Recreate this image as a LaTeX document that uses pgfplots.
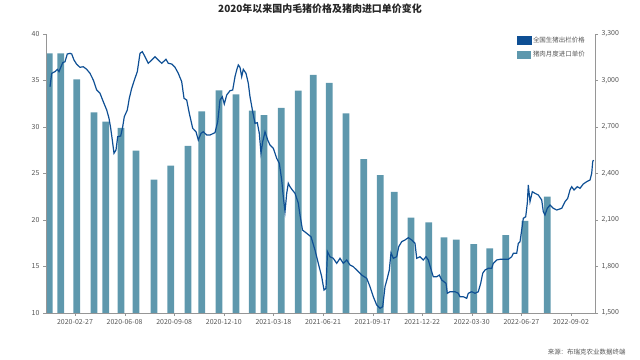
\documentclass[border=0pt]{standalone}
\usepackage{pgfplots}
\pgfplotsset{compat=1.18}
\usepackage{fontspec}
\setmainfont{Noto Sans CJK SC}
\definecolor{lineblue}{RGB}{14,79,148}
\definecolor{barblue}{RGB}{94,152,173}
\definecolor{axgray}{RGB}{150,150,150}
\definecolor{txtgray}{RGB}{85,85,85}
\begin{document}
\begin{tikzpicture}
\path[use as bounding box] (0bp,0bp) rectangle (640bp,360bp);
\pgfplotsset{common/.style={width=549bp,height=279bp,scale only axis,
  at={(46bp,47bp)},anchor=south west,xmin=46,xmax=595,
  tick label style={font=\fontsize{7}{8}\selectfont,text=txtgray},
  /pgf/number format/assume math mode=true,
  axis line style={axgray},tick style={axgray},major tick length=3bp,
  tick align=outside}}
\begin{axis}[common,hide x axis,axis y line*=right,
  ymin=1500,ymax=3300,ytick={1500,1800,...,3300},
  yticklabel style={/pgf/number format/1000 sep={,}},
  legend style={at={(1,1)},anchor=north east,draw=none,fill=none,
    font=\fontsize{6.5}{8}\selectfont,text=txtgray,row sep=3bp,inner sep=0pt,
    xshift=-8bp,yshift=-1bp},
  legend cell align=left]
\addlegendimage{legend image code/.code={\fill[lineblue] (0bp,-4bp) rectangle (14bp,4bp);}}
\addlegendentry{全国生猪出栏价格}
\addplot[ybar,bar width=6.7bp,fill=barblue,draw=none,
  legend image code/.code={\fill[barblue] (0bp,-4bp) rectangle (14bp,4bp);}]
  coordinates {
(49.3,3175) (60.7,3175) (76.7,3008) (94,2795) (105.7,2734) (121,2694)
(136,2547) (154,2360) (170.7,2450) (188,2579) (201.7,2801) (219,2937)
(236,2911) (252.3,2805) (264,2777) (281.3,2824) (298.3,2934) (313.3,3037)
(329.3,2984) (346,2788) (363.7,2493) (380.3,2390) (394.3,2281) (411,2115)
(428.7,2085) (444,1988) (456.3,1973) (473.7,1945) (489.7,1917) (505.7,2003)
(525,2095) (547.3,2250)};
\addlegendentry{猪肉月度进口单价}
\node[font=\fontsize{7}{8}\selectfont,text=txtgray] at (axis description cs:1,1) [yshift=9bp] {美元/吨};
\end{axis}
\begin{axis}[common,axis y line*=left,axis x line*=bottom,
  ymin=10,ymax=40,ytick={10,15,...,40},
  xtick={75,124.6,174.2,223.8,273.4,323,372.6,422.2,471.8,521.4,571},
  xticklabels={2020-02-27,2020-06-08,2020-09-08,2020-12-10,2021-03-18,2021-06-21,2021-09-17,2021-12-22,2022-03-30,2022-06-27,2022-09-02}]
\addplot[lineblue,line width=1.2bp,mark=none] coordinates {
(50,34.33) (51.7,35.77) (55,35.95) (57.3,36.20) (59,35.95) (61,36.48)
(62.7,36.91) (65,37.02) (67.3,37.85) (70,37.92) (71.7,37.85) (74,37.20)
(76.7,36.74) (80,36.42) (83.3,36.48) (86.7,36.20) (90,35.77) (93.3,35.05)
(96.7,33.98) (100,33.62) (103.3,32.72) (106.7,31.83) (109,30.94) (110.7,29.86)
(112.3,28.60) (114,27.17) (116,27.53) (117.7,28.96) (120.7,29.03) (122.7,30.03)
(124.3,31.11) (127.3,31.83) (129.3,33.09) (131.7,34.16) (135,35.24) (137.3,35.95)
(140,37.92) (142.3,38.10) (145,37.56) (148.3,36.85) (151.7,37.20) (155,37.56)
(158.3,37.20) (161.7,36.85) (166,37.28) (168.3,36.85) (171.7,36.77) (175,36.42)
(178.3,35.77) (181.7,34.87) (184,33.09) (186.7,32.90) (189.3,31.47) (192.7,29.86)
(196,29.49) (198.3,28.60) (201,29.32) (203.3,29.49) (206.7,29.14) (210,29.14)
(215,29.39) (217.7,30.57) (220,32.90) (222.3,33.26) (224.3,32.47) (226.7,33.44)
(230,33.90) (232.7,33.98) (235,35.41) (236.7,36.13) (238.3,36.67) (240,36.42)
(241.7,35.41) (243.3,36.20) (246,35.77) (248.3,34.70) (250,33.26) (252.7,31.64)
(255,30.40) (257.3,30.46) (259.3,29.32) (261,27.17) (262.7,28.42) (265,29.49)
(267.7,28.60) (270,28.06) (273.3,27.71) (276.7,26.63) (279.3,26.10) (281.7,24.30)
(283.3,22.50) (285,20.89) (286.7,22.87) (288.3,23.95) (290,23.58) (292.3,23.23)
(295,22.87) (298.3,21.80) (300,20.54) (302.5,18.92) (306.7,18.57) (311,18.20)
(315,16.77) (318.3,15.34) (321.7,13.90) (324,12.47) (326,12.65) (327.5,16.59)
(330,16.05) (333.3,15.88) (336.7,15.34) (340,15.88) (343.3,15.34) (346.7,15.70)
(350,15.16) (353.3,14.98) (356.7,14.62) (361.7,14.08) (366.7,13.73) (370,12.83)
(373.3,11.75) (376.7,10.86) (380,10.50) (382.7,10.68) (385,12.83) (387.3,13.73)
(389.3,14.62) (391,16.48) (393.3,15.88) (396.7,16.05) (398.7,17.13) (401.7,17.67)
(405,17.85) (408.3,18.10) (411.7,17.85) (415,17.49) (416.7,15.88) (420,16.05)
(423.3,15.70) (426,16.05) (428.3,15.70) (431.7,14.44) (433.3,13.90) (436.7,13.90)
(439.3,14.08) (441.7,13.55) (444,13.36) (446,13.19) (447.3,12.12) (450,12.29)
(455,12.29) (458.3,12.12) (460,11.75) (463.3,11.75) (466.7,11.58) (468.3,12.12)
(471.7,12.29) (475,12.12) (478.3,12.29) (480.7,13.19) (482.7,14.27) (485,14.62)
(488.3,14.81) (491.7,14.81) (493.3,15.34) (496.7,15.70) (500,15.77) (505,15.77)
(508.3,15.77) (511.7,16.05) (513.3,16.42) (516.7,16.42) (518.3,17.49) (520,17.67)
(521.7,18.92) (523.3,20.18) (525.7,20.35) (527.3,21.80) (528.3,23.76) (530,21.97)
(532.3,23.04) (535,22.87) (538.3,22.69) (541.7,22.15) (543.3,20.89) (545,20.54)
(547.3,21.26) (550,21.61) (553.3,21.26) (556.7,21.07) (561.7,21.26) (565,21.97)
(567.7,22.33) (570,23.23) (571.7,23.58) (574,23.23) (577.3,23.58) (580,23.41)
(583.3,23.87) (586.7,24.12) (590,24.30) (591.7,25.02) (592.7,26.27) (593.5,26.45)};
\node[font=\fontsize{7}{8}\selectfont,text=txtgray] at (axis description cs:0,1) [yshift=9bp] {元/千克};
\end{axis}
\node[font=\bfseries\fontsize{10}{12}\selectfont,text=black!85] at (320bp,351bp) {2020年以来国内毛猪价格及猪肉进口单价变化};
\node[font=\fontsize{6.5}{8}\selectfont,text=txtgray,anchor=east] at (629bp,8bp) {来源：布瑞克农业数据终端};
\end{tikzpicture}
\end{document}
